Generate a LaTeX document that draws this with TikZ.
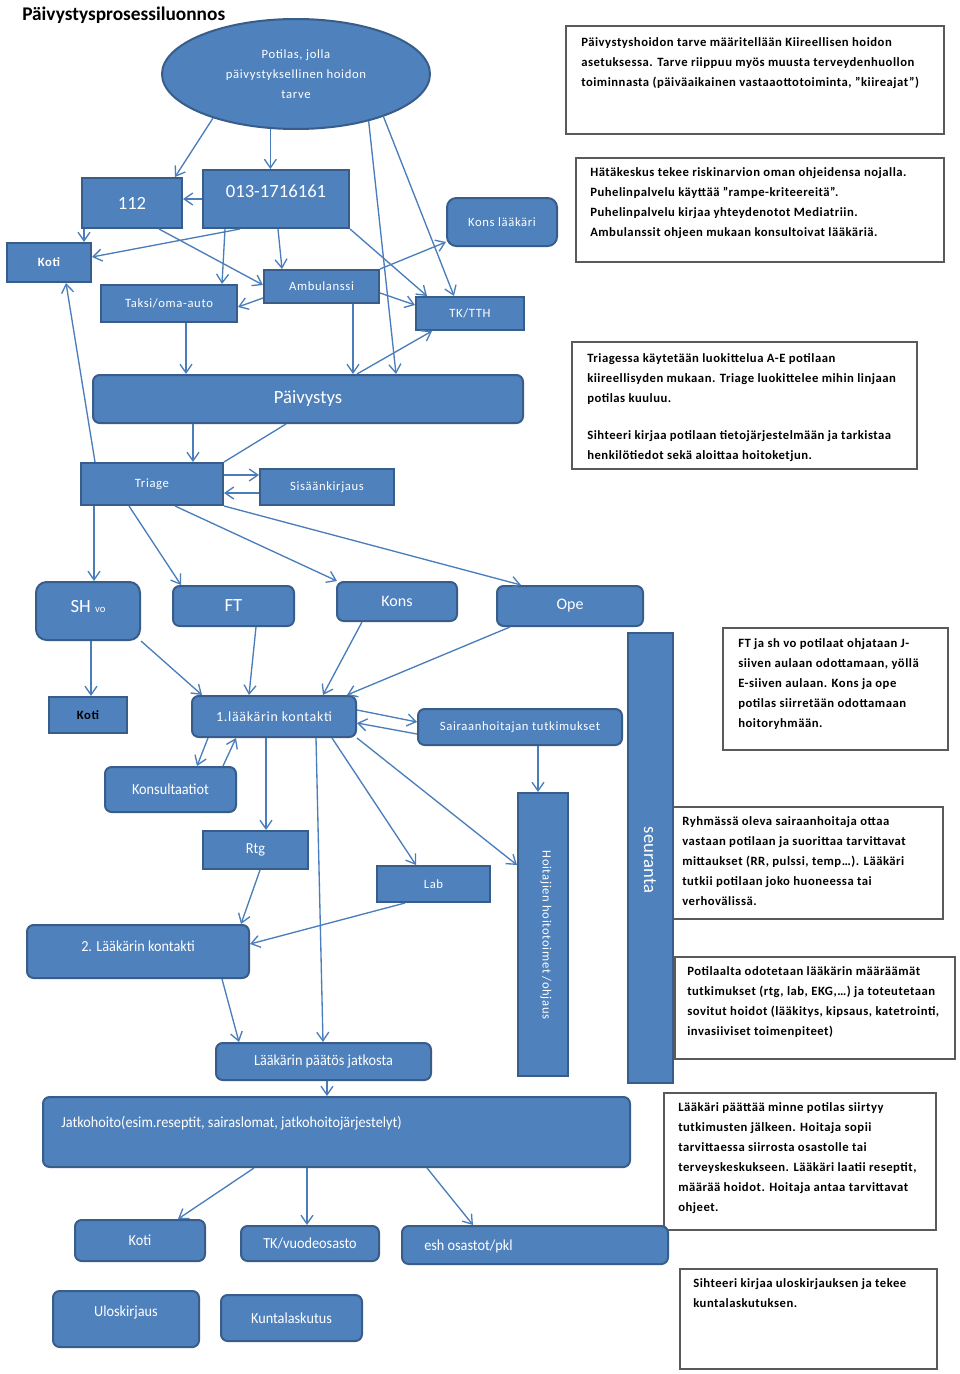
\documentclass[tikz,border=0pt]{standalone}
\usepackage{fontspec}
\setmainfont{Carlito}
\newfontfamily\lblfont[LetterSpace=5]{Carlito}
\newfontfamily\condfont[FakeStretch=0.93]{Carlito}
\newfontfamily\tbfont[LetterSpace=4]{Carlito}
\usetikzlibrary{shapes.geometric,arrows.meta,calc}
\definecolor{boxfill}{HTML}{4F81BD}
\definecolor{boxline}{HTML}{385D8A}
\definecolor{arrcol}{HTML}{4A7EBB}
\definecolor{tbline}{HTML}{5A5A5A}
\begin{document}
\begin{tikzpicture}[x=0.75pt,y=-0.75pt,
  rect/.style args={#1,#2,#3,#4}{at={({(#1+#3)/2},{(#2+#4)/2})},
    minimum width={(#3-#1)*0.75pt}, minimum height={(#4-#2)*0.75pt}},
  bx/.style={draw=boxline, fill=boxfill, line width=1.5pt, inner sep=0pt, text=white,
    font=\lblfont\fontsize{9.5}{11}\selectfont},
  rbx/.style={bx, rounded corners=5pt},
  big/.style={font=\fontsize{14}{16}\selectfont},
  mid/.style={font=\fontsize{12}{14}\selectfont},
  cond/.style={font=\condfont\fontsize{11.5}{13}\selectfont},
  lbl/.style={text=white, inner sep=0pt},
  arr/.style={draw=arrcol, line width=1pt, -{Straight Barb[length=6.5pt,width=9pt]}},
  ln/.style={draw=arrcol, line width=1pt},
  tbox/.style={draw=tbline, line width=0.8pt, fill=white, inner sep=0pt},
  ttext/.style={anchor=north west, inner sep=0pt, align=left,
    font=\tbfont\bfseries\fontsize{9.5}{15}\selectfont},
]
\fill[white] (0,0) rectangle (960,1374);
\useasboundingbox (0,0) rectangle (960,1374);

% title
\node[anchor=west, inner sep=0pt, font=\bfseries\fontsize{14.5}{16}\selectfont] (title) at (22,15) {Päivystysprosessiluonnos};

% text boxes
\node[tbox, rect={566,26,944,134}] (tbA) {};
\node[ttext] (ttA) at (581,37) {Päivystyshoidon tarve määritellään Kiireellisen hoidon\\asetuksessa. Tarve riippuu myös muusta terveydenhuollon\\toiminnasta (päiväaikainen vastaaottotoiminta, ”kiireajat”)};
\node[tbox, rect={576,158,944,262}] (tbB) {};
\node[ttext] (ttB) at (590,167) {Hätäkeskus tekee riskinarvion oman ohjeidensa nojalla.\\Puhelinpalvelu käyttää ”rampe-kriteereitä”.\\Puhelinpalvelu kirjaa yhteydenotot Mediatriin.\\Ambulanssit ohjeen mukaan konsultoivat lääkäriä.};
\node[tbox, rect={572,342,917,469}] (tbC) {};
\node[ttext] (ttC) at (587,353) {Triagessa käytetään luokittelua A-E potilaan\\kiireellisyden mukaan. Triage luokittelee mihin linjaan\\potilas kuuluu.\\[12.75pt]Sihteeri kirjaa potilaan tietojärjestelmään ja tarkistaa\\henkilötiedot sekä aloittaa hoitoketjun.};
\node[tbox, rect={723,628,948,750}] (tbD) {};
\node[ttext] (ttD) at (738,638) {FT ja sh vo potilaat ohjataan J-\\siiven aulaan odottamaan, yöllä\\E-siiven aulaan. Kons ja ope\\potilas siirretään odottamaan\\hoitoryhmään.};
\node[tbox, rect={673,807,943,919}] (tbE) {};
\node[ttext] (ttE) at (682,816) {Ryhmässä oleva sairaanhoitaja ottaa\\vastaan potilaan ja suorittaa tarvittavat\\mittaukset (RR, pulssi, temp…). Lääkäri\\tutkii potilaan joko huoneessa tai\\verhovälissä.};
\node[tbox, rect={675,957,955,1059}] (tbF) {};
\node[ttext] (ttF) at (687,966) {Potilaalta odotetaan lääkärin määräämät\\tutkimukset (rtg, lab, EKG,…) ja toteutetaan\\sovitut hoidot (lääkitys, kipsaus, katetrointi,\\invasiiviset toimenpiteet)};
\node[tbox, rect={664,1093,936,1230}] (tbG) {};
\node[ttext] (ttG) at (678,1102) {Lääkäri päättää minne potilas siirtyy\\tutkimusten jälkeen. Hoitaja sopii\\tarvittaessa siirrosta osastolle tai\\terveyskeskukseen. Lääkäri laatii reseptit,\\määrää hoidot. Hoitaja antaa tarvittavat\\ohjeet.};
\node[tbox, rect={680,1269,937,1369}] (tbH) {};
\node[ttext] (ttH) at (693,1278) {Sihteeri kirjaa uloskirjauksen ja tekee\\kuntalaskutuksen.};

% flow nodes
\node[bx, ellipse, minimum width=201pt, minimum height=82.5pt, align=center,
  font=\lblfont\fontsize{9.5}{15}\selectfont] (pot) at (296,74) {Potilas, jolla\\päivystyksellinen hoidon\\tarve};
\node[bx, big, rect={82,178,182,228}] (n112) {112};
\node[bx, rect={203,170,349,228}] (n013) {};
\node[lbl, big] (t013) at (276,191) {013-1716161};
\node[bx, rounded corners=7pt, rect={447,198,557,246}] (konsl) {Kons lääkäri};
\node[bx, rect={7,243,91,282}, font=\lblfont\bfseries\fontsize{9.5}{11}\selectfont] (koti1) {Koti};
\node[bx, rect={264,270,379,303}] (amb) {Ambulanssi};
\node[bx, rect={101,285,237,322}] (taksi) {Taksi/oma-auto};
\node[bx, rect={416,297,524,330}] (tktth) {TK/TTH};
\node[rbx, big, rect={93,375,523,423}] (paiv) {Päivystys};
\node[bx, rect={81,463,223,505}] (triage) {Triage};
\node[bx, rect={260,469,394,505}] (sisa) {Sisäänkirjaus};
\node[bx, rounded corners=8pt, rect={36,582,140,640}] (shvo) {};
\node[lbl] (tshvo) at (88,606) {\fontsize{14}{16}\selectfont SH \fontsize{8}{10}\selectfont vo};
\node[rbx, big, rect={173,586,294,626}] (ft) {FT};
\node[rbx, mid, rect={337,582,457,621}] (kons) {Kons};
\node[rbx, mid, rect={497,586,643,626}] (ope) {Ope};
\node[bx, rect={49,697,127,733}, text=black, font=\lblfont\bfseries\fontsize{9.5}{11}\selectfont] (koti2) {Koti};
\node[rbx, rect={192,696,356,737}, font=\lblfont\fontsize{10.5}{12}\selectfont] (laak1) {1.lääkärin kontakti};
\node[rbx, rect={418,709,622,745}] (sair) {Sairaanhoitajan tutkimukset};
\node[rbx, cond, rect={105,767,236,812}] (konsu) {Konsultaatiot};
\node[bx, cond, rect={203,831,308,869}] (rtg) {Rtg};
\node[bx, rect={377,866,490,902}] (lab) {Lab};
\node[bx, rect={518,793,568,1076}] (hoit) {};
\node[lbl, rotate=-90, font=\lblfont\fontsize{9.5}{11}\selectfont] (thoit) at (546,935) {Hoitajien hoitotoimet /ohjaus};
\node[bx, rect={628,633,673,1083}] (seur) {};
\node[lbl, rotate=-90, big] (tseur) at (650,860) {seuranta};
\node[rbx, rect={27,925,249,978}] (laak2) {};
\node[lbl, cond] (tlaak2) at (138,946) {2. Lääkärin kontakti};
\node[rbx, cond, rect={216,1043,431,1080}] (paat) {Lääkärin päätös jatkosta};
\node[rbx, rect={43,1097,630,1167}] (jatko) {};
\node[lbl, cond, anchor=west] (tjatko) at (61,1123) {Jatkohoito(esim.reseptit, sairaslomat, jatkohoitojärjestelyt)};
\node[rbx, cond, rect={75,1220,205,1261}] (koti3) {Koti};
\node[rbx, cond, rect={241,1226,379,1261}] (tkv) {TK/vuodeosasto};
\node[rbx, rect={402,1226,668,1264}] (esh) {};
\node[lbl, cond, anchor=west] (tesh) at (424,1246) {esh osastot/pkl};
\node[rbx, rect={53,1291,199,1347}] (ulos) {};
\node[lbl, cond] (tulos) at (126,1312) {Uloskirjaus};
\node[rbx, cond, rect={221,1295,362,1341}] (kunta) {Kuntalaskutus};

% connectors
\draw[arr] (pot.208) -- (n112.north -| 175,0);
\draw[arr] (pot.245) -- (pot.245 |- n013.north);
\draw[arr] (pot.334) -- (tktth.north -| 454,0);
\draw[arr] (pot.327) -- (paiv.north -| 396,0);
\draw[arr] (n013.west) -- (n013.west -| n112.east);
\draw[arr] (n112.south -| 84,0) -- (koti1.north -| 84,0);
\draw[arr] (n013.south -| 240,0) -- (koti1.east |- 0,257);
\draw[arr] (n112.south -| 159,0) -- (amb.west |- 0,285);
\draw[arr] (n013.south -| 225,0) -- (taksi.north -| 222,0);
\draw[arr] (n013.south -| 278,0) -- (amb.north -| 282,0);
\draw[arr] (n013.south east) -- (tktth.north -| 427,0);
\draw[arr] (amb.north east) -- (konsl.west |- 0,242);
\draw[arr] (amb.west |- 0,298) -- (taksi.east |- 0,307);
\draw[arr] (amb.east |- 0,293) -- (tktth.west |- 0,305);
\draw[arr] (paiv.north -| 357,0) -- (tktth.south -| 432,0);
\draw[arr] (taksi.south -| 186,0) -- (paiv.north -| 186,0);
\draw[arr] (amb.south -| 353,0) -- (paiv.north -| 353,0);
\draw[arr] (triage.north -| 95,0) -- (koti1.south -| 66,0);
\draw[arr] (paiv.south -| 193,0) -- (triage.north -| 193,0);
\draw[ln] (paiv.south -| 286,0) -- (triage.north east);
\draw[arr] (triage.east |- 0,475) -- (sisa.west |- 0,475);
\draw[arr] (sisa.west |- 0,493) -- (triage.east |- 0,493);
\draw[arr] (triage.south -| 94,0) -- (shvo.north -| 94,0);
\draw[arr] (triage.south -| 129,0) -- (ft.north -| 181,0);
\draw[arr] (triage.south -| 175,0) -- (kons.north -| 337,0);
\draw[arr] (triage.south east) -- (ope.north -| 521,0);
\draw[arr] (shvo.south -| 91,0) -- (koti2.north -| 91,0);
\draw[arr] (shvo.south east) -- (laak1.north -| 202,0);
\draw[arr] (ft.south -| 256,0) -- (laak1.north -| 249,0);
\draw[arr] (kons.south -| 362,0) -- (laak1.north -| 323,0);
\draw[arr] (ope.south -| 510,0) -- (laak1.north -| 347,0);
\draw[arr] (laak1.east |- 0,710) -- (sair.west |- 0,722);
\draw[arr] (sair.west |- 0,734) -- (laak1.east |- 0,723);
\draw[arr] (laak1.south -| 208,0) -- (konsu.north -| 197,0);
\draw[arr] (konsu.north -| 223,0) -- (laak1.south -| 236,0);
\draw[arr] (sair.south -| 538,0) -- (hoit.north -| 538,0);
\draw[arr] (laak1.south -| 266,0) -- (rtg.north -| 266,0);
\draw[arr] (laak1.south -| 316,0) -- (paat.north -| 323,0);
\draw[arr] (laak1.south -| 332,0) -- (lab.north -| 416,0);
\draw[arr] (laak1.south east) -- (hoit.west |- 0,865);
\draw[arr] (rtg.south -| 260,0) -- (laak2.north -| 241,0);
\draw[arr] (lab.south -| 405,0) -- (laak2.east |- 0,944);
\draw[arr] (laak2.south -| 222,0) -- (paat.north -| 239,0);
\draw[arr] (paat.south -| 327,0) -- (jatko.north -| 327,0);
\draw[arr] (jatko.south -| 254,0) -- (koti3.north -| 178,0);
\draw[arr] (jatko.south -| 307,0) -- (tkv.north -| 307,0);
\draw[arr] (jatko.south -| 427,0) -- (esh.north -| 473,0);
\end{tikzpicture}
\end{document}
